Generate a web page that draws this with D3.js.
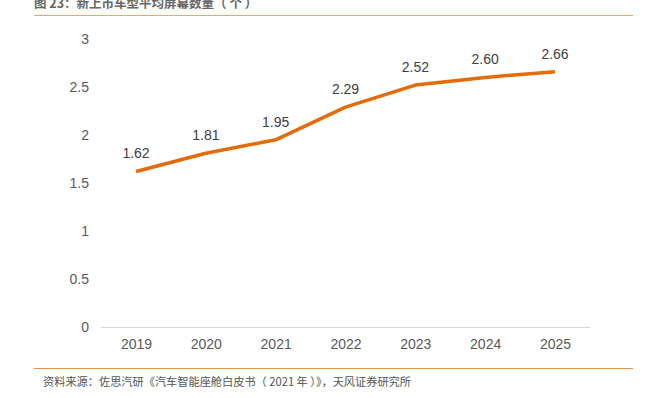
<!DOCTYPE html>
<html>
<head>
<meta charset="utf-8">
<script src="https://cdn.jsdelivr.net/npm/d3@7"></script>
<style>
  body { margin: 0; background: #fff; }
  svg { font-family: "Liberation Sans", Arial, "Noto Sans CJK SC", sans-serif; }
</style>
</head>
<body>
<div id="chart"></div>
<script>
const years = ["2019", "2020", "2021", "2022", "2023", "2024", "2025"];
const screens = [1.62, 1.81, 1.95, 2.29, 2.52, 2.60, 2.66];
const yTicks = [0, 0.5, 1, 1.5, 2, 2.5, 3];

const width = 657;
const height = 398;

const svg = d3.select("#chart").append("svg")
  .attr("width", width)
  .attr("height", height);

// title + rules
svg.append("text")
  .attr("x", 34)
  .attr("y", 8)
  .attr("font-size", 12.5)
  .attr("font-weight", "bold")
  .attr("fill", "#666")
  .attr("font-family", "'Noto Sans CJK SC', sans-serif")
  .text("图 23：新上市车型平均屏幕数量（ 个 ）");

svg.append("line")
  .attr("x1", 34).attr("x2", 633)
  .attr("y1", 15.5).attr("y2", 15.5)
  .attr("stroke", "#F4A460").attr("stroke-width", 1);

svg.append("line")
  .attr("x1", 34).attr("x2", 633)
  .attr("y1", 368.5).attr("y2", 368.5)
  .attr("stroke", "#E8944A").attr("stroke-width", 1);

svg.append("text")
  .attr("x", 43)
  .attr("y", 386)
  .attr("font-size", 11.2)
  .attr("fill", "#555")
  .attr("font-family", "'Noto Sans CJK SC', sans-serif")
  .text("资料来源：佐思汽研《汽车智能座舱白皮书（ 2021 年 ）》，天风证券研究所");

const x = d3.scalePoint().domain(years).range([136, 555]);
const y = d3.scaleLinear().domain([0, 3]).range([327, 39]);

// x axis line
svg.append("line")
  .attr("x1", 101).attr("x2", 590)
  .attr("y1", y(0) + 0.5).attr("y2", y(0) + 0.5)
  .attr("stroke", "#d9d9d9").attr("stroke-width", 1);

const yAxis = d3.axisLeft(y).tickValues(yTicks).tickSize(0).tickPadding(0)
  .tickFormat(d3.format("~g"));
const gy = svg.append("g").attr("transform", "translate(89,0)").call(yAxis);
gy.select(".domain").remove();
gy.selectAll("text").attr("font-size", 14).attr("fill", "#595959")
  .attr("font-family", "'Liberation Sans', Arial, sans-serif");

const xAxis = d3.axisBottom(x).tickSize(0).tickPadding(0);
const gx = svg.append("g").attr("transform", `translate(0,${y(0) + 12})`).call(xAxis);
gx.select(".domain").remove();
gx.selectAll("text").attr("font-size", 14).attr("fill", "#595959")
  .attr("font-family", "'Liberation Sans', Arial, sans-serif");

const line = d3.line()
  .x((d, i) => x(years[i]))
  .y((d) => y(d));

svg.append("path")
  .datum(screens)
  .attr("fill", "none")
  .attr("stroke", "#E36C09")
  .attr("stroke-width", 3.5)
  .attr("stroke-linejoin", "round")
  .attr("d", line);

svg.selectAll(".lbl")
  .data(screens)
  .enter()
  .append("text")
  .attr("class", "lbl")
  .attr("x", (d, i) => x(years[i]))
  .attr("y", (d) => y(d) - 13)
  .attr("text-anchor", "middle")
  .attr("font-size", 14)
  .attr("fill", "#404040")
  .text((d) => d.toFixed(2));
</script>
</body>
</html>
